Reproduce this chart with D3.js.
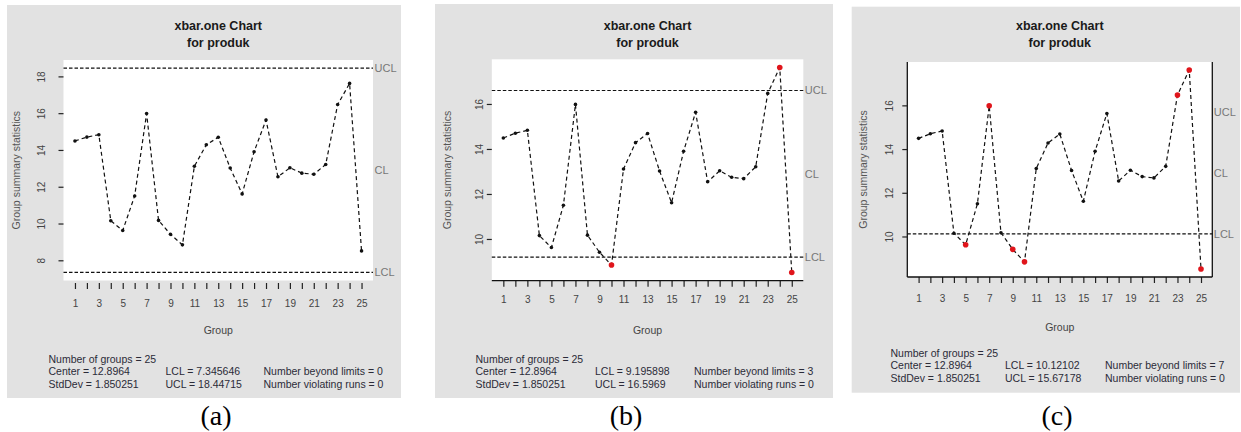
<!DOCTYPE html>
<html>
<head>
<meta charset="utf-8">
<script src="https://cdn.jsdelivr.net/npm/d3@7"></script>
<style>
  body { margin: 0; background: #ffffff; }
  svg { display: block; }
  text { font-family: "Liberation Sans", Arial, Helvetica, sans-serif; }
  text.caption { font-family: "Liberation Serif", "Times New Roman", serif; }
</style>
</head>
<body>
<svg id="chart" width="1241" height="432"></svg>
<script>
// Individual observations of "produk", one per group
const groups = [1, 2, 3, 4, 5, 6, 7, 8, 9, 10, 11, 12, 13, 14, 15, 16, 17, 18, 19, 20, 21, 22, 23, 24, 25];
const produk = [14.49, 14.70, 14.83, 10.15, 9.62, 11.50, 15.98, 10.17, 9.41, 8.84,
                13.11, 14.28, 14.69, 13.02, 11.61, 13.90, 15.63, 12.54, 13.03, 12.74,
                12.68, 13.21, 16.47, 17.62, 8.51];

// Control limits of the three xbar.one charts (3, 2 and 1.5 sigma)
const panelCaptions = ["(a)", "(b)", "(c)"];
const centerValue = 12.8964;
const stdDevValue = 1.850251;
const lclValues = [7.345646, 9.195898, 10.12102];
const uclValues = [18.44715, 16.5969, 15.67178];
const violatingRuns = [0, 0, 0];

// Axis ticks
const xTickLabels = [1, 3, 5, 7, 9, 11, 13, 15, 17, 19, 21, 23, 25];
const yTickValues = [[8, 10, 12, 14, 16, 18], [10, 12, 14, 16], [10, 12, 14, 16]];

// Page layout of each chart
const layouts = [
  { bg: [7, 5, 401, 398], plot: [63.5, 60, 373, 280.5], yLabX: 16.5, yTickOff: 22.5, xTickY: 303, xTitleY: 330,
    statsX: [48.5, 165.5, 263.5], statsY: 359, captionX: 216, showBottom: false, showSides: false, showUcl: true,
    xTickTop: 283 },
  { bg: [435, 4, 833, 398], plot: [491.8, 59.3, 803.3, 280.7], yLabX: 447, yTickOff: 12.5, xTickY: 300, xTitleY: 330,
    statsX: [475.5, 595, 694], statsY: 359, captionX: 626, showBottom: true, showSides: false, showUcl: true,
    xTickTop: 280.7 },
  { bg: [851.7, 6.7, 1240, 392.7], plot: [907.3, 62, 1212.3, 277], yLabX: 863, yTickOff: 18, xTickY: 298.5, xTitleY: 327,
    statsX: [890.5, 1005, 1105], statsY: 353, captionX: 1057, showBottom: true, showSides: true, showUcl: false,
    xTickTop: 277 }
];

const svg = d3.select("#chart");
const fmt7 = v => String(+v.toPrecision(7));

layouts.forEach((L, i) => {
  const lcl = lclValues[i], ucl = uclValues[i];
  const [pl, pt, pr, pb] = L.plot;
  const g = svg.append("g");

  // margin background and plotting region
  g.append("rect").attr("x", L.bg[0]).attr("y", L.bg[1])
    .attr("width", L.bg[2] - L.bg[0]).attr("height", L.bg[3] - L.bg[1]).attr("fill", "#e2e2e2");
  g.append("rect").attr("x", pl).attr("y", pt).attr("width", pr - pl).attr("height", pb - pt).attr("fill", "#ffffff");

  // scales with R-style 4% padding on the data range
  const xs = d3.scaleLinear().domain([1 - 0.04 * 24, 25 + 0.04 * 24]).range([pl, pr]);
  const ext = d3.extent(produk.concat([lcl, ucl]));
  const pad = (ext[1] - ext[0]) * 0.04;
  const ys = d3.scaleLinear().domain([ext[0] - pad, ext[1] + pad]).range([pb, pt]);

  // title
  const cx = (pl + pr) / 2;
  g.append("text").attr("x", cx).attr("y", 30).attr("text-anchor", "middle")
    .attr("font-size", 12.5).attr("font-weight", "bold").attr("fill", "#1a1a1a").text("xbar.one Chart");
  g.append("text").attr("x", cx).attr("y", 46.5).attr("text-anchor", "middle")
    .attr("font-size", 12.5).attr("font-weight", "bold").attr("fill", "#1a1a1a").text("for produk");

  // x axis
  const xAxis = d3.axisBottom(xs).tickValues(groups).tickSize(6).tickSizeOuter(0)
    .tickFormat(d => xTickLabels.includes(d) ? d : "");
  const xg = g.append("g").attr("transform", `translate(0,${L.xTickTop})`).call(xAxis);
  xg.select(".domain").remove();
  xg.selectAll(".tick line").attr("stroke", "#222").attr("stroke-width", 1.2);
  xg.selectAll(".tick text").attr("y", L.xTickY - L.xTickTop).attr("dy", "0.35em")
    .attr("font-size", 10).attr("fill", "#444");
  if (L.showBottom) {
    g.append("line").attr("x1", pl).attr("x2", pr).attr("y1", pb).attr("y2", pb)
      .attr("stroke", "#111").attr("stroke-width", 1.3);
  }
  if (L.showSides) {
    [pl, pr].forEach(x => g.append("line").attr("x1", x).attr("x2", x).attr("y1", pt).attr("y2", pb)
      .attr("stroke", "#111").attr("stroke-width", 1.3));
  }
  g.append("text").attr("x", cx).attr("y", L.xTitleY).attr("dy", "0.35em").attr("text-anchor", "middle")
    .attr("font-size", 10.5).attr("fill", "#444").text("Group");

  // y axis with labels parallel to the axis
  const yAxis = d3.axisLeft(ys).tickValues(yTickValues[i]).tickSize(5).tickSizeOuter(0);
  const yg = g.append("g").attr("transform", `translate(${pl},0)`).call(yAxis);
  yg.select(".domain").remove();
  yg.selectAll(".tick line").attr("stroke", "#222").attr("stroke-width", 1.2);
  yg.selectAll(".tick text").attr("transform", "rotate(-90)").attr("x", 0).attr("y", -L.yTickOff)
    .attr("dy", "0.35em").attr("text-anchor", "middle")
    .attr("font-size", 10).attr("fill", "#444");
  g.append("text").attr("transform", `translate(${L.yLabX},${(pt + pb) / 2}) rotate(-90)`)
    .attr("dy", "0.35em").attr("text-anchor", "middle")
    .attr("font-size", 10.5).attr("fill", "#555").text("Group summary statistics");

  // control limits
  const limits = [{ v: ucl, name: "UCL", line: L.showUcl }, { v: centerValue, name: "CL", line: false },
                  { v: lcl, name: "LCL", line: true }];
  limits.forEach(d => {
    if (d.line) {
      g.append("line").attr("x1", pl).attr("x2", pr).attr("y1", ys(d.v)).attr("y2", ys(d.v))
        .attr("stroke", "#111").attr("stroke-width", 1.2).attr("stroke-dasharray", "3.5,2");
    }
    g.append("text").attr("x", pr + 1.5).attr("y", ys(d.v)).attr("dy", "0.35em")
      .attr("font-size", 11).attr("fill", "#777").text(d.name);
  });

  // statistics line and points
  const line = d3.line().x((d, j) => xs(groups[j])).y(d => ys(d));
  g.append("path").datum(produk).attr("d", line).attr("fill", "none")
    .attr("stroke", "#111").attr("stroke-width", 1.2).attr("stroke-dasharray", "4,3");
  const outside = d => d < lcl || d > ucl;
  g.selectAll("circle.pt").data(produk).enter().append("circle")
    .attr("cx", (d, j) => xs(groups[j])).attr("cy", d => ys(d))
    .attr("r", d => outside(d) ? 2.8 : 1.8)
    .attr("fill", d => outside(d) ? "#e0151b" : "#111");

  // summary
  const beyond = produk.filter(outside).length;
  const rows = [
    ["Number of groups = " + groups.length, "", ""],
    ["Center = " + fmt7(centerValue), "LCL = " + fmt7(lcl), "Number beyond limits = " + beyond],
    ["StdDev = " + fmt7(stdDevValue), "UCL = " + fmt7(ucl), "Number violating runs = " + violatingRuns[i]]
  ];
  rows.forEach((r, ri) => r.forEach((t, ci) => {
    if (!t) return;
    g.append("text").attr("x", L.statsX[ci]).attr("y", L.statsY + ri * 12.7).attr("dy", "0.35em")
      .attr("font-size", 10.5).attr("fill", "#2b2b38").text(t);
  }));

  // caption
  svg.append("text").attr("class", "caption").attr("x", L.captionX).attr("y", 425)
    .attr("text-anchor", "middle").attr("font-size", 28)
    .attr("fill", "#000").text(panelCaptions[i]);
});
</script>
</body>
</html>
